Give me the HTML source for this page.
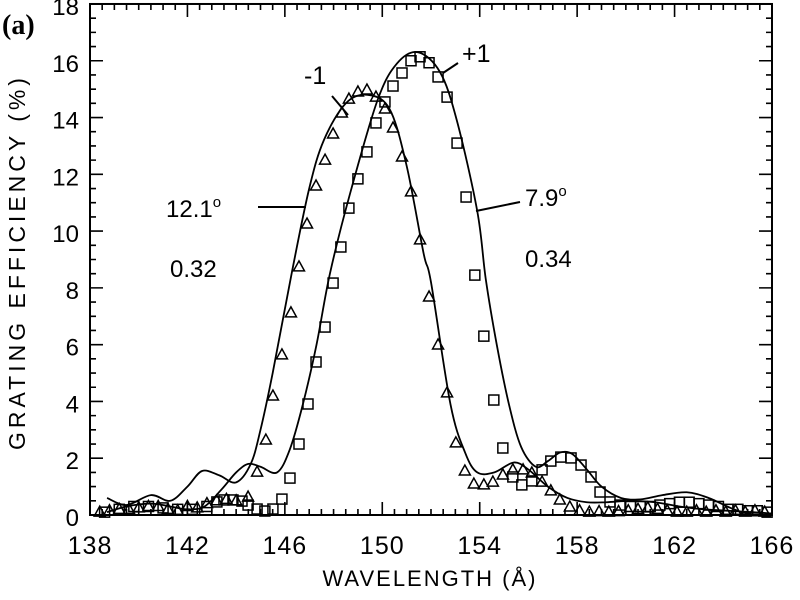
<!DOCTYPE html>
<html><head><meta charset="utf-8"><style>
html,body{margin:0;padding:0;background:#fff;}
svg{display:block;font-family:"Liberation Sans",sans-serif;}
</style></head><body>
<svg id="chart" width="800" height="600" viewBox="0 0 800 600" xmlns="http://www.w3.org/2000/svg">
<rect width="800" height="600" fill="#fff"/>
<text x="2" y="34" font-family="Liberation Serif,serif" font-weight="bold" font-size="28">(a)</text>
<g id="axes"></g>
<g id="marks"></g>
<text x="304" y="84" font-size="25">-1</text>
<line x1="332" y1="96" x2="348" y2="115" stroke="#000" stroke-width="2"/>
<text x="462" y="62" font-size="25">+1</text>
<line x1="443" y1="73" x2="458" y2="63" stroke="#000" stroke-width="2"/>
<text x="166" y="217" font-size="24">12.1<tspan dy="-10" font-size="15">o</tspan></text>
<line x1="258" y1="207" x2="306" y2="207" stroke="#000" stroke-width="2"/>
<text x="170" y="277" font-size="24">0.32</text>
<text x="525" y="206" font-size="24">7.9<tspan dy="-10" font-size="15">o</tspan></text>
<line x1="476" y1="211" x2="520" y2="202" stroke="#000" stroke-width="2"/>
<text x="525" y="267" font-size="24">0.34</text>
<text x="430" y="586" font-size="22" text-anchor="middle" letter-spacing="2">WAVELENGTH (Å)</text>
<text transform="translate(25,262) rotate(-90)" font-size="23" text-anchor="middle" letter-spacing="4">GRATING EFFICIENCY (%)</text>
</svg>
<script>
const xTicks=[138,142,146,150,154,158,162,166];
const yTicks=[0,2,4,6,8,10,12,14,16,18];
const triX=[138.4,138.8,139.2,139.6,140.0,140.4,140.8,141.2,141.6,142.0,142.4,142.8,143.2,143.6,144.0,144.49,144.86,145.22,145.51,145.88,146.25,146.58,146.91,147.28,147.65,147.98,148.34,148.63,149.0,149.37,149.74,150.11,150.44,150.81,151.18,151.55,151.92,152.29,152.66,153.02,153.39,153.76,154.17,154.54,154.95,155.36,155.78,156.14,156.56,156.92,157.29,157.7,158.1,158.5,158.9,159.3,159.7,160.1,160.5,160.9,161.3,161.7,162.1,162.5,162.9,163.3,163.7,164.1,164.5,164.9,165.3,165.7];
const triY=[0.1,0.15,0.2,0.2,0.25,0.3,0.3,0.2,0.15,0.3,0.25,0.4,0.5,0.55,0.5,0.63,1.51,2.64,4.19,5.64,7.12,8.74,10.25,11.59,12.5,13.42,14.16,14.65,14.9,14.97,14.72,14.3,13.63,12.61,11.38,9.69,7.68,5.99,4.3,2.54,1.55,1.09,1.06,1.16,1.41,1.59,1.59,1.48,1.16,0.85,0.53,0.28,0.15,0.1,0.12,0.1,0.12,0.15,0.2,0.25,0.2,0.15,0.1,0.1,0.15,0.1,0.15,0.1,0.15,0.1,0.15,0.1];
const sqX=[138.6,139.2,139.8,140.4,141.0,141.6,142.2,142.8,143.21,143.5,143.87,144.24,144.49,144.86,145.18,145.51,145.88,146.21,146.58,146.95,147.28,147.65,147.98,148.3,148.63,149.0,149.37,149.74,150.11,150.44,150.81,151.18,151.55,151.92,152.29,152.66,153.07,153.44,153.8,154.17,154.58,154.95,155.36,155.73,156.14,156.56,156.92,157.33,157.75,158.16,158.57,158.94,159.35,159.76,160.2,160.6,161.0,161.4,161.8,162.2,162.6,163.0,163.4,163.8,164.2,164.6,165.0,165.4,165.8];
const sqY=[0.1,0.2,0.3,0.3,0.25,0.2,0.2,0.3,0.46,0.53,0.53,0.49,0.35,0.21,0.14,0.21,0.56,1.3,2.5,3.91,5.39,6.62,8.17,9.44,10.81,11.84,12.79,13.81,14.55,15.11,15.57,16.0,16.14,15.93,15.43,14.72,13.1,11.2,8.45,6.3,4.05,2.36,1.34,1.06,1.2,1.59,1.9,2.04,2.01,1.76,1.34,0.81,0.46,0.35,0.3,0.3,0.3,0.35,0.4,0.45,0.45,0.4,0.35,0.3,0.2,0.2,0.15,0.15,0.1];
const m1CurveX=[138.7,139.5,140.5,141.3,142.0,142.6,143.3,144.0,144.6,145.0,145.5,146.3,147.0,147.6,148.5,149.4,150.3,151.0,151.7,152.0,152.8,153.4,153.9,154.6,155.4,156.0,156.8,157.6,158.4,159.2,160.2,161.2,162.2,163.2,164.2,165.2,166.0];
const m1CurveY=[0.6,0.35,0.7,0.5,1.0,1.55,1.4,1.15,1.8,3.0,5.0,8.6,11.5,13.2,14.5,14.8,14.3,12.3,9.2,8.2,3.9,2.2,1.5,1.5,1.85,1.6,1.0,0.6,0.45,0.45,0.5,0.45,0.3,0.2,0.15,0.1,0.05];
const p1CurveX=[138.7,139.5,140.5,141.3,142.0,142.7,143.4,144.0,144.5,145.0,145.68,146.2,146.74,147.3,147.85,148.67,149.8,150.6,151.46,152.37,153.06,153.9,154.25,154.7,155.2,155.7,156.3,156.8,157.3,157.8,158.4,159.0,159.8,160.6,161.5,162.5,163.4,164.3,165.0,166.0];
const p1CurveY=[0.1,0.3,0.4,0.3,0.2,0.3,0.9,1.5,1.8,1.7,1.5,2.3,3.9,6.0,8.5,11.3,14.6,15.9,16.3,15.6,13.9,10.7,8.3,6.0,3.9,2.4,1.7,1.9,2.2,2.15,1.6,1.0,0.6,0.55,0.7,0.8,0.6,0.25,0.05,0.0];
const X=v=>90+(v-138)*24.357;
const Y=v=>515-v*28.39;
const NS="http://www.w3.org/2000/svg";
const axes=document.getElementById('axes'),marks=document.getElementById('marks');
function mk(tag,attrs,parent){const e=document.createElementNS(NS,tag);for(const k in attrs)e.setAttribute(k,attrs[k]);parent.appendChild(e);return e;}
const frame=mk('rect',{x:X(138),y:Y(18),width:X(166)-X(138),height:Y(0)-Y(18),fill:'none',stroke:'#000','stroke-width':2},axes);


for(let v=138;v<=166.001;v+=0.5){
  const major=Math.abs(v-Math.round(v))<1e-6&&(Math.round(v)-138)%4===0;
  const len=major?13:6;
  const t=mk('path',{d:`M${X(v)} ${Y(0)}v${-len}M${X(v)} ${Y(18)}v${len}`,stroke:'#000','stroke-width':1.6},axes);
  
  
}
for(let v=0;v<=18.001;v+=0.5){
  const major=Math.abs(v-Math.round(v))<1e-6&&Math.round(v)%2===0;
  const len=major?13:6;
  const t=mk('path',{d:`M${X(138)} ${Y(v)}h${len}M${X(166)} ${Y(v)}h${-len}`,stroke:'#000','stroke-width':1.6},axes);
  
  
}
xTicks.forEach(v=>{const t=mk('text',{x:X(v),y:554,'text-anchor':'middle','font-size':25,'letter-spacing':1},axes);t.textContent=v;
  
  });
yTicks.forEach(v=>{const t=mk('text',{x:79,y:Y(v)+11,'text-anchor':'end','font-size':24},axes);t.textContent=v;
  
  });
function smooth(xs,ys){const p=xs.map((x,i)=>[X(x),Y(ys[i])]);let d=`M${p[0][0]} ${p[0][1]}`;
  for(let i=0;i<p.length-1;i++){const p0=p[Math.max(0,i-1)],p1=p[i],p2=p[i+1],p3=p[Math.min(p.length-1,i+2)];
    d+=`C${p1[0]+(p2[0]-p0[0])/6} ${p1[1]+(p2[1]-p0[1])/6} ${p2[0]-(p3[0]-p1[0])/6} ${p2[1]-(p3[1]-p1[1])/6} ${p2[0]} ${p2[1]}`;}
  return d;}
const c1=mk('path',{d:smooth(m1CurveX,m1CurveY),fill:'none',stroke:'#000','stroke-width':1.8},marks);


const c2=mk('path',{d:smooth(p1CurveX,p1CurveY),fill:'none',stroke:'#000','stroke-width':1.8},marks);


triX.forEach((x,i)=>{const cx=X(x),cy=Y(triY[i]);
  const t=mk('path',{d:`M${cx} ${cy-6}L${cx+5.5} ${cy+4}L${cx-5.5} ${cy+4}Z`,fill:'none',stroke:'#000','stroke-width':1.5},marks);
  
  });
sqX.forEach((x,i)=>{const cx=X(x),cy=Y(sqY[i]);
  const s=mk('rect',{x:cx-5,y:cy-5,width:10,height:10,fill:'none',stroke:'#000','stroke-width':1.5},marks);
  
  });
</script>
</body></html>
